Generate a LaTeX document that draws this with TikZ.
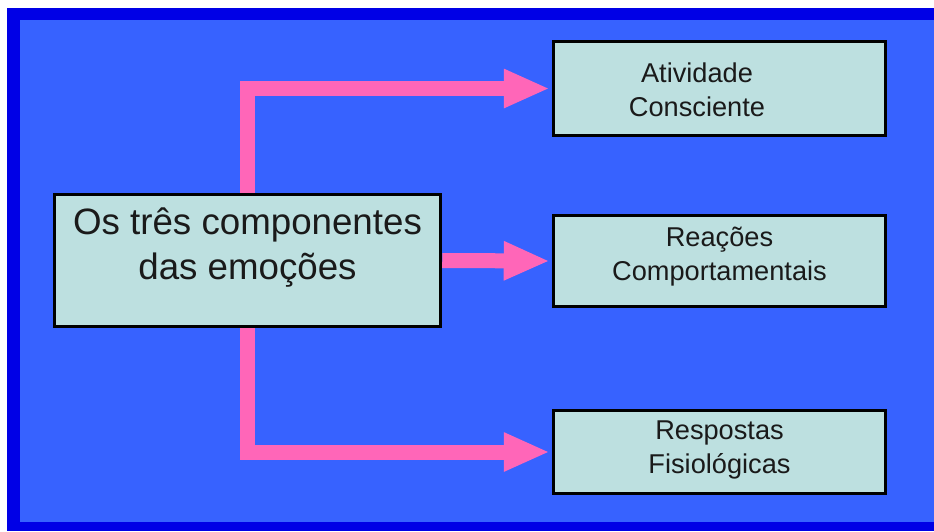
\documentclass[tikz,border=0pt]{standalone}
\usepackage{fontspec}
\setmainfont{Liberation Sans}
\usetikzlibrary{arrows.meta}
\definecolor{outerblue}{HTML}{0000E6}
\definecolor{innerblue}{HTML}{3762FF}
\definecolor{arrowpink}{HTML}{FF66B8}
\definecolor{boxfill}{HTML}{BDE0E0}
\definecolor{txt}{HTML}{1A1A1A}
\tikzset{
  box/.style={draw=black, line width=3.5pt, fill=boxfill, rectangle, inner sep=0pt},
  bigtext/.style={align=center, text=txt, font=\fontsize{36.7}{45}\selectfont},
  smalltext/.style={align=center, text=txt, font=\fontsize{27.2}{34}\selectfont},
  conn/.style={draw=arrowpink, line width=15pt, -{Triangle[length=46pt,width=36pt]}, shorten >=2pt}
}
\begin{document}
\begin{tikzpicture}[x=1pt,y=-1pt]
\useasboundingbox (0,0) rectangle (934,531);
\fill[white] (0,0) rectangle (934,531);
\fill[outerblue] (7,8) rectangle (934,531);
\fill[innerblue] (20,20) rectangle (934,522);

\node[box, minimum width=386pt, minimum height=132pt] (main) at (247.5,260.5) {};
\node[bigtext] (maintext) at (247.5,248) {Os três componentes\\das emoções};

\node[box, minimum width=332pt, minimum height=94pt] (a1) at (719.5,88.5) {};
\node[smalltext] (t1) at (697,90) {Atividade\\Consciente};

\node[box, minimum width=332pt, minimum height=91pt] (a2) at (719.5,261) {};
\node[smalltext] (t2) at (719.5,257) {Reações\\Comportamentais};

\node[box, minimum width=332pt, minimum height=83pt] (a3) at (719.5,452) {};
\node[smalltext] (t3) at (719.5,450) {Respostas\\Fisiológicas};

\draw[conn] (main.north) |- (a1.west);
\draw[conn] (main.east) -- (a2.west);
\draw[conn] (main.south) |- (a3.west);
\end{tikzpicture}
\end{document}
